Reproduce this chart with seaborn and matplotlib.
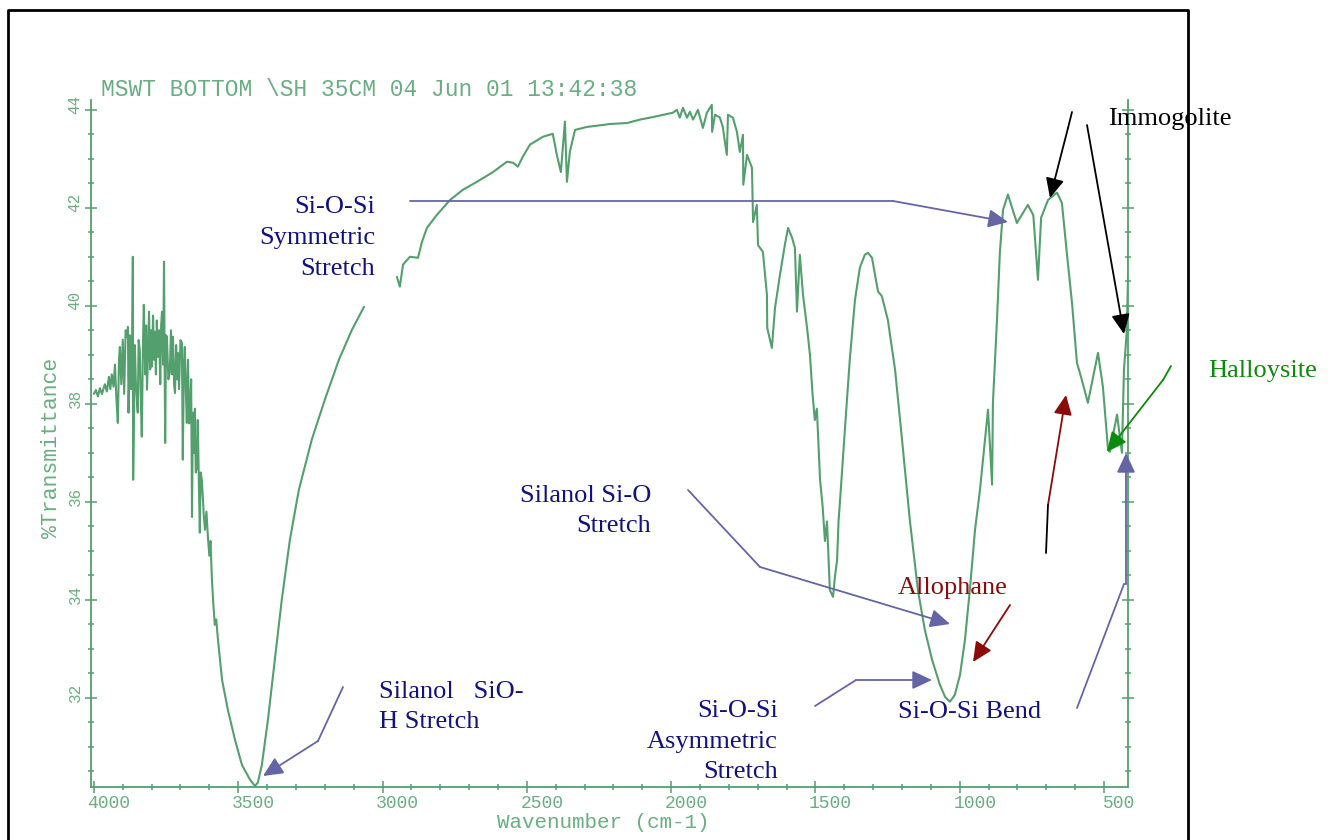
import matplotlib
matplotlib.use("Agg")
import matplotlib.pyplot as plt
import pandas as pd
import seaborn as sns
from matplotlib.lines import Line2D
from matplotlib.patches import FancyArrowPatch
from matplotlib.ticker import MultipleLocator
from matplotlib.transforms import ScaledTranslation

# spectrum: wavenumber (cm-1) and %T
# part A runs from 4000 until the curve disappears behind the first label box
wn_a = [4000, 3993, 3986, 3979, 3972, 3962, 3955, 3948, 3943, 3938, 3932, 3927,
        3922, 3917, 3913, 3910, 3905, 3900, 3895, 3890, 3886, 3882, 3880, 3875,
        3871, 3868, 3865, 3864, 3858, 3855, 3851, 3848, 3845, 3841, 3838, 3834,
        3830, 3827, 3822, 3819, 3816, 3812, 3809, 3805, 3802, 3799, 3795, 3792,
        3789, 3785, 3782, 3778, 3774, 3770, 3767, 3764, 3760, 3757, 3753, 3750,
        3747, 3742, 3737, 3733, 3729, 3726, 3722, 3719, 3715, 3712, 3709, 3705,
        3700, 3695, 3692, 3688, 3685, 3681, 3678, 3674, 3670, 3667, 3663, 3660,
        3657, 3653, 3650, 3647, 3643, 3640, 3636, 3633, 3630, 3626, 3622, 3619,
        3615, 3610, 3605, 3600, 3596, 3591, 3586, 3581, 3576, 3570,
        3556, 3536, 3511, 3487, 3459, 3442, 3432, 3418, 3397, 3373,
        3349, 3321, 3290, 3245, 3200, 3151, 3106, 3064]
t_a = [38.20, 38.28, 38.15, 38.32, 38.20, 38.40, 38.25, 38.55, 38.30, 38.60, 38.35, 38.80,
       38.10, 37.61, 38.90, 39.16, 38.40, 39.31, 38.20, 39.50, 39.37, 39.57, 37.82, 39.40,
       38.30, 38.76, 41.00, 36.45, 39.20, 38.50, 38.08, 37.82, 39.30, 39.10, 38.20, 37.33,
       39.20, 40.02, 38.60, 39.60, 38.29, 39.10, 39.88, 38.70, 39.50, 38.76, 39.80, 38.90,
       39.47, 38.60, 39.70, 38.96, 39.50, 38.40, 39.60, 39.88, 38.80, 40.90, 37.20, 39.40,
       39.37, 38.50, 38.63, 39.50, 38.60, 39.37, 38.40, 38.22, 39.20, 38.50, 39.04, 38.30,
       39.30, 39.24, 36.86, 38.80, 39.16, 38.20, 37.61, 38.90, 37.60, 37.82, 38.50, 35.69,
       37.82, 37.00, 37.90, 36.60, 36.71, 37.67, 36.30, 35.37, 36.60, 36.45, 36.04, 35.70,
       35.43, 35.80, 35.29, 34.90, 35.20, 34.41, 33.90, 33.49, 33.60, 33.18,
       32.37, 31.76, 31.14, 30.63, 30.33, 30.20, 30.27, 30.63, 31.55, 32.78,
       34.00, 35.22, 36.24, 37.27, 38.08, 38.90, 39.51, 39.98]

# part B picks up again above the label and runs to the end of the scan
wn_b = [2950, 2940, 2929, 2905, 2877, 2863, 2846, 2811, 2766, 2721, 2673, 2617,
        2569, 2548, 2531, 2514, 2489, 2444, 2410, 2396, 2382, 2368, 2361, 2351,
        2333, 2292, 2212, 2153, 2108, 2073, 1994, 1980, 1970, 1959, 1945, 1935,
        1924, 1907, 1890, 1876, 1859, 1858, 1848, 1831, 1821, 1807, 1803, 1786,
        1772, 1762, 1751, 1750, 1737, 1720, 1716, 1703, 1699, 1682, 1668, 1667,
        1651, 1640, 1623, 1606, 1595, 1581, 1571, 1564, 1554, 1543, 1529, 1519,
        1510, 1502, 1495, 1484, 1475, 1467, 1460, 1450, 1439, 1432, 1425, 1420,
        1415, 1398, 1381, 1363, 1346, 1329, 1318, 1304, 1283, 1270, 1249, 1224,
        1200, 1173, 1145, 1121, 1096, 1069, 1051, 1034, 1017, 999, 982, 965,
        947, 930, 902, 888, 885, 871, 861, 850, 833, 802, 764, 745,
        729, 718, 694, 663, 646, 629, 611, 594, 577, 556, 521, 504,
        486, 480, 455, 438, 431, 421, 414]
t_b = [40.59, 40.39, 40.84, 41.00, 40.98, 41.31, 41.59, 41.86, 42.16, 42.37, 42.53, 42.73,
       42.94, 42.92, 42.84, 43.04, 43.29, 43.45, 43.51, 43.08, 42.73, 43.76, 42.53, 43.14,
       43.59, 43.65, 43.71, 43.73, 43.80, 43.84, 43.94, 44.00, 43.84, 44.04, 43.84, 43.96,
       43.80, 44.00, 43.63, 43.94, 44.10, 43.55, 43.90, 43.84, 43.65, 43.08, 43.90, 43.84,
       43.55, 43.14, 43.49, 42.47, 43.08, 42.82, 41.71, 42.06, 41.24, 41.10, 40.22, 39.55,
       39.14, 39.96, 40.63, 41.24, 41.59, 41.39, 41.18, 39.88, 41.04, 40.22, 39.55, 39.00,
       38.20, 37.67, 37.90, 36.45, 35.90, 35.20, 35.60, 34.20, 34.06, 34.50, 34.80, 35.60,
       36.00, 37.47, 38.90, 40.12, 40.78, 41.04, 41.08, 40.98, 40.29, 40.20, 39.71, 38.69,
       37.27, 35.63, 34.20, 33.39, 32.78, 32.27, 32.02, 31.92, 32.06, 32.47, 33.18, 34.20,
       35.43, 36.24, 37.88, 36.35, 38.02, 39.71, 41.08, 41.96, 42.27, 41.69, 42.06, 41.85,
       40.53, 41.80, 42.16, 42.31, 42.10, 41.08, 40.06, 38.84, 38.49, 38.02, 39.04, 38.35,
       37.06, 37.02, 37.78, 37.00, 38.69, 39.51, 41.35]

x_ticks = [4000, 3500, 3000, 2500, 2000, 1500, 1000, 500]
y_ticks = [32, 34, 36, 38, 40, 42, 44]
header = "MSWT BOTTOM \\SH 35CM 04 Jun 01 13:42:38"

W, H = 1328, 840
SCAN = "#549f6e"
SCAN_TXT = "#69ae82"
NAVY = "#12127e"
SLATE = "#6565a6"
DRED = "#8b0a0a"
GREEN = "#0b8a0b"
SERIF = ["Liberation Serif", "DejaVu Serif"]
MONO = ["Liberation Mono", "DejaVu Sans Mono"]


def P(x, y):
    return (x / W, 1 - y / H)


sns.set_style("white")
plt.rcParams["font.family"] = ["Liberation Serif", "DejaVu Sans"]

fig = plt.figure(figsize=(W / 100, H / 100), dpi=100)
ax = fig.add_axes([91 / W, 1 - 787 / H, (1128 - 91) / W, (787 - 100) / H])

df = pd.concat([
    pd.DataFrame({"wavenumber": wn_a, "T": t_a, "part": 0}),
    pd.DataFrame({"wavenumber": wn_b, "T": t_b, "part": 1}),
], ignore_index=True)
sns.lineplot(data=df, x="wavenumber", y="T", units="part", estimator=None,
             sort=False, color=SCAN, lw=1.5, ax=ax)

ax.set_xlim(4010, 417)
ax.set_ylim(30.18, 44.2)
ax.set_xlabel("")
ax.set_ylabel("")
ax.set_xticks(x_ticks)
ax.set_yticks(y_ticks)
ax.xaxis.set_minor_locator(MultipleLocator(100))
ax.yaxis.set_minor_locator(MultipleLocator(0.5))
ax.spines["top"].set_visible(False)
for s in ("left", "right", "bottom"):
    ax.spines[s].set_color(SCAN)
    ax.spines[s].set_linewidth(1.3)
ax.tick_params(which="both", direction="inout", color=SCAN, width=1.1,
               right=True, left=True, bottom=True)
ax.tick_params(which="major", length=8)
ax.tick_params(which="minor", length=4)
ax.tick_params(axis="x", labelsize=13, labelcolor=SCAN_TXT, pad=2)
ax.tick_params(axis="y", labelsize=11.5, labelcolor=SCAN_TXT, labelrotation=90, pad=2)
for lab in ax.get_xticklabels():
    lab.set_family(MONO)
    lab.set_transform(lab.get_transform() + ScaledTranslation(0.15, 0, fig.dpi_scale_trans))
for lab in ax.get_yticklabels():
    lab.set_family(MONO)
    lab.set_transform(lab.get_transform() + ScaledTranslation(0, 0.09, fig.dpi_scale_trans))

# plotter captions
fig.text(*P(101, 96), header, family=MONO, fontsize=16.5, color=SCAN_TXT, va="baseline")
fig.text(*P(52, 448), "%Transmittance", family=MONO, fontsize=15.5, color=SCAN_TXT,
         rotation=90, ha="center", va="center")
fig.text(*P(603, 822), "Wavenumber (cm-1)", family=MONO, fontsize=15, color=SCAN_TXT,
         ha="center", va="center")

# black page frame (open at the bottom)
xs, ys = zip(*[P(8, 840), P(8, 10), P(1188, 10), P(1188, 840)])
fig.add_artist(Line2D(xs, ys, transform=fig.transFigure, color="black", lw=2))


def arrow(pts, color, lw=1.3):
    pts = [P(*p) for p in pts]
    if len(pts) > 2:
        xs, ys = zip(*pts[:-1])
        fig.add_artist(Line2D(xs, ys, transform=fig.transFigure, color=color, lw=lw))
    fig.add_artist(FancyArrowPatch(pts[-2], pts[-1], transform=fig.transFigure,
                                   arrowstyle="-|>,head_length=0.6,head_width=0.28",
                                   mutation_scale=20, color=color, lw=lw,
                                   shrinkA=0, shrinkB=0))


def label(x, baselines, texts, color, ha="left"):
    for b, s in zip(baselines, texts):
        fig.text(*P(x, b), s, ha=ha, va="baseline", color=color, fontsize=19, family=SERIF)


label(375, [213, 244, 275], ["Si-O-Si", "Symmetric", "Stretch"], NAVY, "right")
arrow([(410, 201), (893, 201), (1008, 222)], SLATE)

label(379, [698, 728], ["Silanol   SiO-", "H Stretch"], NAVY)
arrow([(343, 687), (318, 741), (263, 776)], SLATE)

label(651, [502, 532], ["Silanol Si-O", "Stretch"], NAVY, "right")
arrow([(688, 490), (760, 567), (950, 624)], SLATE)

label(778, [717, 748, 778], ["Si-O-Si", "Asymmetric", "Stretch"], NAVY, "right")
arrow([(815, 706), (856, 680), (932, 680)], SLATE)

label(898, [718], ["Si-O-Si Bend"], NAVY)
arrow([(1077, 708), (1124, 584), (1126, 584), (1126, 453)], SLATE)

label(898, [594], ["Allophane"], DRED)
arrow([(1010, 605), (973, 662)], DRED)
xs, ys = zip(*[P(1046, 553), P(1048, 505)])
fig.add_artist(Line2D(xs, ys, transform=fig.transFigure, color="black", lw=1.3))
arrow([(1048, 505), (1066, 395)], DRED)

label(1108, [125], ["Immogolite"], "black")
arrow([(1072, 112), (1068, 128), (1050, 198)], "black")
arrow([(1087, 125), (1124, 334)], "black")

label(1208, [377], ["Halloysite"], GREEN)
arrow([(1171, 366), (1163, 380), (1107, 452)], GREEN)

fig.savefig("out.png", dpi=100)
